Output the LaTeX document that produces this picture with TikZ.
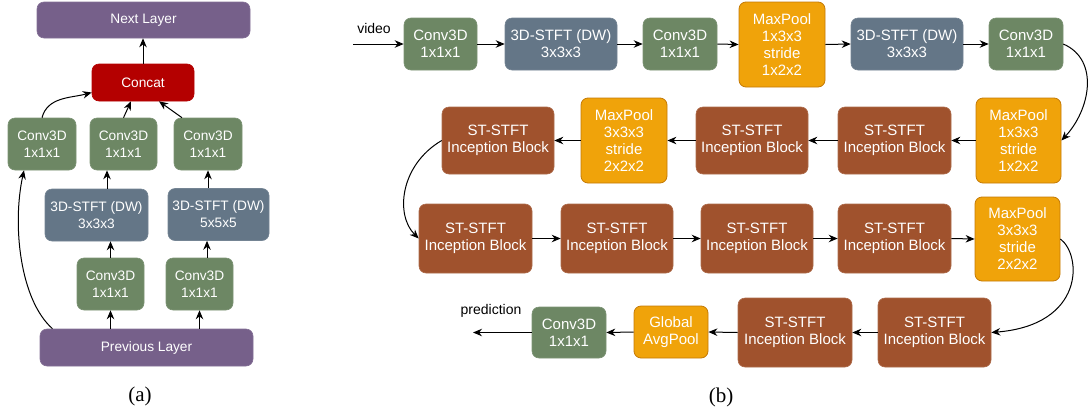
\documentclass[tikz,border=0pt]{standalone}
\usepackage{fontspec}
\setmainfont{Liberation Sans}
\newfontfamily\capfont{Liberation Serif}
\usetikzlibrary{arrows.meta}
\definecolor{cgreen}{HTML}{6D8764}
\definecolor{cblue}{HTML}{647687}
\definecolor{corange}{HTML}{F0A30A}
\definecolor{corangeline}{HTML}{C47A06}
\definecolor{cbrown}{HTML}{A0522D}
\definecolor{cred}{HTML}{B40000}
\definecolor{cpurple}{HTML}{76608A}
\begin{document}
\begin{tikzpicture}[x=1pt,y=1pt,
  box/.style={rounded corners=7pt, align=center, text=white, inner sep=0pt,
    font=\fontsize{15}{17}\selectfont},
  boxa/.style={box, font=\fontsize{13.7}{17}\selectfont},
  conv/.style={fill=cgreen, draw=cgreen!90!white, line width=0.6pt},
  stft/.style={fill=cblue, draw=cblue!90!white, line width=0.6pt},
  pool/.style={fill=corange, draw=corangeline, line width=0.8pt},
  incep/.style={fill=cbrown, draw=cbrown!85!white, line width=0.6pt},
  layer/.style={fill=cpurple, draw=cpurple!90!white, line width=0.6pt},
  cat/.style={fill=cred, draw=cred, line width=0.6pt},
  wh/.style 2 args={minimum width=#1, minimum height=#2},
  conn/.style={-{Stealth[length=9pt,width=7.5pt]}, line width=1pt, black},
  tag/.style={font=\fontsize{14}{16}\selectfont, text=black, inner sep=0pt},
  caption/.style={font=\capfont\fontsize{21}{24}\selectfont, inner sep=0pt}
]
\useasboundingbox (0,0) rectangle (1090,-418);

% ---------- (a) inception block ----------
\node[boxa,layer,wh={213pt}{36pt}] (next) at (143.5,-20) {Next Layer};
\node[boxa,cat,wh={102pt}{37pt}] (concat) at (143,-82.5) {Concat};
\node[boxa,conv,wh={68pt}{52pt}] (a1) at (42,-144) {Conv3D\\1x1x1};
\node[boxa,conv,wh={67pt}{52pt}] (a2) at (123.5,-144) {Conv3D\\1x1x1};
\node[boxa,conv,wh={68pt}{52pt}] (a3) at (208,-144) {Conv3D\\1x1x1};
\node[boxa,stft,wh={103pt}{52pt}] (s1) at (96.5,-215) {3D-STFT (DW)\\3x3x3};
\node[boxa,stft,wh={101pt}{52pt}] (s2) at (218.5,-214.5) {3D-STFT (DW)\\5x5x5};
\node[boxa,conv,wh={67pt}{52pt}] (a4) at (110.5,-284) {Conv3D\\1x1x1};
\node[boxa,conv,wh={67pt}{52pt}] (a5) at (199.5,-284) {Conv3D\\1x1x1};
\node[boxa,layer,wh={213pt}{37pt}] (prev) at (146.5,-347.5) {Previous Layer};
\node[caption] (capa) at (140,-396) {(a)};

\draw[conn] (concat.north) -- (concat.north |- next.south);
\draw[conn] (a1.north) to[out=75,in=195] ([yshift=-10pt]concat.west);
\draw[conn] (a2.north) -- ([xshift=-12pt]concat.south);
\draw[conn] ([xshift=-26pt]a3.north) -- ([xshift=16pt]concat.south);
\draw[conn] ([xshift=10.5pt]s1.north) -- ([xshift=-16.5pt]a2.south);
\draw[conn] (s2.north -| a3.south) -- (a3.south);
\draw[conn] (a4.north) -- (a4.north |- s1.south);
\draw[conn] ([xshift=7.5pt]a5.north) -- ([xshift=7.5pt]a5.north |- s2.south);
\draw[conn] (a4.south |- prev.north) -- (a4.south);
\draw[conn] (a5.south |- prev.north) -- (a5.south);
\draw[conn] ([xshift=-94pt]prev.north) .. controls (20,-300) and (12,-225) .. ([xshift=-18pt]a1.south);

% ---------- (b) network ----------
% row 1
\node[box,conv,wh={73pt}{52pt}] (v1) at (440.5,-44) {Conv3D\\1x1x1};
\node[box,stft,wh={112pt}{52pt}] (v2) at (561,-44) {3D-STFT (DW)\\3x3x3};
\node[box,conv,wh={74pt}{52pt}] (v3) at (680,-44) {Conv3D\\1x1x1};
\node[box,pool,wh={86pt}{85pt}] (v4) at (782,-44.5) {MaxPool\\1x3x3\\stride\\1x2x2};
\node[box,stft,wh={112pt}{52pt}] (v5) at (907,-44) {3D-STFT (DW)\\3x3x3};
\node[box,conv,wh={74pt}{52pt}] (v6) at (1026,-44) {Conv3D\\1x1x1};
% row 2
\node[box,pool,wh={85pt}{85pt}] (w1) at (1018.5,-140.5) {MaxPool\\1x3x3\\stride\\1x2x2};
\node[box,incep,wh={113pt}{67pt}] (w2) at (894.5,-140.5) {ST-STFT\\Inception Block};
\node[box,incep,wh={112pt}{67pt}] (w3) at (752,-140.5) {ST-STFT\\Inception Block};
\node[box,pool,wh={86pt}{85pt}] (w4) at (624,-140.5) {MaxPool\\3x3x3\\stride\\2x2x2};
\node[box,incep,wh={112pt}{67pt}] (w5) at (498,-140.5) {ST-STFT\\Inception Block};
% row 3
\node[box,incep,wh={113pt}{69pt}] (x1) at (475.5,-238.5) {ST-STFT\\Inception Block};
\node[box,incep,wh={112pt}{69pt}] (x2) at (617,-238.5) {ST-STFT\\Inception Block};
\node[box,incep,wh={112pt}{69pt}] (x3) at (757,-238.5) {ST-STFT\\Inception Block};
\node[box,incep,wh={113pt}{69pt}] (x4) at (894.5,-238.5) {ST-STFT\\Inception Block};
\node[box,pool,wh={85pt}{84pt}] (x5) at (1017.5,-239) {MaxPool\\3x3x3\\stride\\2x2x2};
% row 4
\node[box,incep,wh={113pt}{69pt}] (y1) at (934.5,-332.5) {ST-STFT\\Inception Block};
\node[box,incep,wh={114pt}{69pt}] (y2) at (795,-332.5) {ST-STFT\\Inception Block};
\node[box,pool,wh={74pt}{52pt}] (y3) at (671,-332) {Global\\AvgPool};
\node[box,conv,wh={74pt}{51pt}] (y4) at (569,-332.5) {Conv3D\\1x1x1};

\coordinate (vin) at (353,-44);
\coordinate (pout) at (473,-332.5);
\node[tag] (video) at (374,-28) {video};
\node[tag] (pred) at (491,-311) {prediction};
\node[caption] (capb) at (721,-397) {(b)};

\draw[conn] (vin) -- (v1.west);
\draw[conn] (v1.east) -- (v2.west);
\draw[conn] (v2.east) -- (v3.west);
\draw[conn] (v3.east) -- (v4.west);
\draw[conn] (v4.east) -- (v5.west);
\draw[conn] (v5.east) -- (v6.west);
\draw[conn] (v6.east) .. controls (1100,-60) and (1090,-110) .. (w1.east);
\draw[conn] (w1.west) -- (w2.east);
\draw[conn] (w2.west) -- (w3.east);
\draw[conn] (w3.west) -- (w4.east);
\draw[conn] (w4.west) -- (w5.east);
\draw[conn] (w5.west) .. controls (400,-165) and (395,-215) .. (x1.west);
\draw[conn] (x1.east) -- (x2.west);
\draw[conn] (x2.east) -- (x3.west);
\draw[conn] (x3.east) -- (x4.west);
\draw[conn] (x4.east) -- (x5.west);
\draw[conn] (x5.east) .. controls (1082,-255) and (1085,-325) .. (y1.east);
\draw[conn] (y1.west) -- (y2.east);
\draw[conn] (y2.west) -- (y3.east);
\draw[conn] (y3.west) -- (y4.east);
\draw[conn] (y4.west) -- (pout);
\end{tikzpicture}
\end{document}
